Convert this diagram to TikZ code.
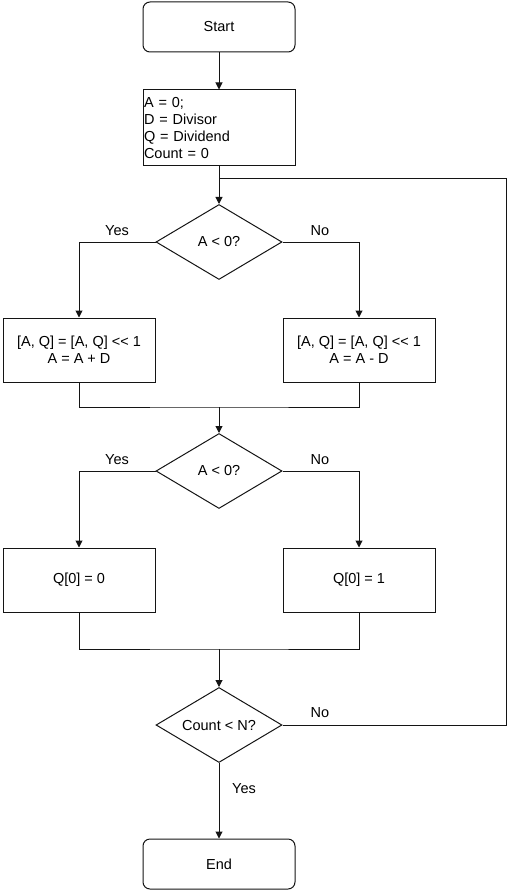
\documentclass[tikz,border=0pt]{standalone}
\usepackage{fontspec}
\setmainfont{Liberation Sans}
\usetikzlibrary{arrows.meta,positioning,shapes.geometric}
\definecolor{lineBlack}{RGB}{20,20,20}

\begin{document}
\begin{tikzpicture}[x=1pt,y=-1pt,font=\fontsize{14.5}{17}\selectfont,
  term/.style={draw=lineBlack, line width=1pt, rounded corners=7pt, minimum width=152pt, minimum height=50pt},
  proc/.style={draw=lineBlack, line width=1pt, minimum width=152pt, minimum height=64pt, align=center},
  decide/.style={draw=lineBlack, line width=1pt, diamond, aspect=1.68, minimum width=126pt, minimum height=75pt, inner sep=0pt},
  flow/.style={draw=lineBlack, line width=1pt, -{Triangle[length=7pt,width=7pt]}},
  wire/.style={draw=lineBlack, line width=1pt}]
\useasboundingbox (0,0) rectangle (507,893);

\node[term] (start) at (219,27) {Start};
\node[draw=lineBlack, line width=1pt, minimum width=152pt, minimum height=76pt, text width=150pt, inner sep=1pt, align=left] (init) at (219,128)
  {A = 0;\\D = Divisor\\Q = Dividend\\Count = 0};

\node[decide] (test1) at (219,242) {A < 0?};
\node[proc] (addD) at (79,350) {[A, Q] = [A, Q] <{}< 1\\A = A + D};
\node[proc] (subD) at (359,350) {[A, Q] = [A, Q] <{}< 1\\A = A - D};

\node[decide] (test2) at (219,471) {A < 0?};
\node[proc] (qzero) at (79,580) {Q[0] = 0};
\node[proc] (qone) at (359,580) {Q[0] = 1};

\node[decide] (count) at (219,725) {Count < N?};
\node[term] (stop) at (219,864) {End};

\coordinate (join1) at (219,179);
\coordinate (back) at (506,179);
\coordinate (merge1) at (219,407);
\coordinate (merge2) at (219,649);

% main line
\draw[flow] (start) -- (init);
\draw[flow] (init) -- (test1);
\draw[flow] (test1.west) -| (addD.north);
\draw[flow] (test1.east) -| (subD.north);
\draw[wire] (addD.south) |- (merge1) -| (subD.south);
\draw[flow] (merge1) -- (test2);
\draw[flow] (test2.west) -| (qzero.north);
\draw[flow] (test2.east) -| (qone.north);
\draw[wire] (qzero.south) |- (merge2) -| (qone.south);
\draw[flow] (merge2) -- (count);
\draw[flow] (count) -- (stop);

% loop back
\draw[wire] (count.east) -| (back) -- (join1);

\node (yes1) at (117,231) {Yes};
\node (no1) at (320,231) {No};
\node (yes2) at (117,460) {Yes};
\node (no2) at (320,460) {No};
\node (no3) at (320,713) {No};
\node (yes3) at (244,789) {Yes};
\end{tikzpicture}
\end{document}
